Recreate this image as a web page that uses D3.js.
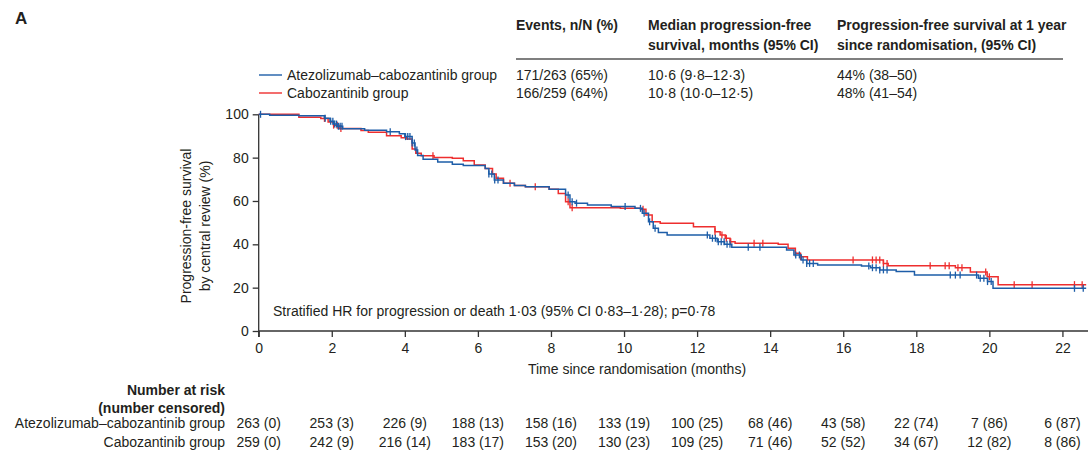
<!DOCTYPE html>
<html>
<head>
<meta charset="utf-8">
<script src="https://cdnjs.cloudflare.com/ajax/libs/d3/7.8.5/d3.min.js"></script>
<style>
  body { margin: 0; background: #fff; }
  svg text { font-family: "Liberation Sans", Arial, sans-serif; fill: #231f20; }
</style>
</head>
<body>
<script>
// curves: step times (months) and survival (%) after each step
var atezoTimes = [0, 0.3, 1.1, 1.8, 1.95, 2.05, 2.15, 2.3, 2.9, 3.5, 3.85, 4.0, 4.2, 4.28, 4.35, 4.5, 4.9, 5.3, 5.6, 6.2, 6.3, 6.45, 6.7, 7.0, 7.3, 7.95, 8.4, 8.52, 8.66, 9.0, 9.65, 10.3, 10.5, 10.67, 10.8, 10.94, 11.18, 12.35, 12.55, 12.75, 12.95, 14.45, 14.65, 14.85, 15.0, 15.3, 16.5, 16.75, 17.0, 17.45, 17.95, 19.7, 19.95, 20.1];
var atezoSurv  = [100, 99.6, 99.3, 98.2, 96.8, 95.5, 94.5, 93.3, 92.6, 92.0, 91.0, 89.7, 86.8, 83.5, 81.0, 79.2, 78.0, 77.0, 76.4, 75.0, 72.5, 69.7, 68.2, 67.2, 66.6, 65.4, 62.8, 59.7, 59.0, 58.2, 57.4, 56.6, 54.3, 50.4, 47.4, 45.4, 44.3, 42.8, 41.2, 40.0, 38.6, 37.4, 35.1, 32.8, 31.2, 30.5, 30.0, 29.2, 28.2, 27.4, 25.8, 24.3, 22.8, 19.7];
var caboTimes  = [0, 1.1, 1.7, 1.9, 2.05, 2.2, 2.8, 3.0, 3.5, 3.9, 4.05, 4.2, 4.3, 4.45, 4.8, 5.3, 5.6, 5.9, 6.2, 6.4, 6.5, 6.7, 7.0, 7.3, 7.95, 8.2, 8.4, 8.52, 9.9, 10.45, 10.6, 10.77, 10.99, 11.9, 12.49, 12.63, 12.77, 12.9, 13.04, 14.22, 14.49, 14.69, 14.83, 15.02, 17.1, 17.23, 19.07, 19.48, 19.94, 20.24];
var caboSurv   = [100, 98.6, 98.1, 96.5, 95.0, 93.5, 92.5, 91.7, 90.1, 89.2, 88.6, 84.0, 82.0, 80.9, 80.1, 79.7, 78.6, 76.6, 75.0, 72.5, 70.5, 68.2, 67.2, 66.6, 65.4, 63.5, 59.7, 56.9, 56.6, 56.2, 53.5, 50.4, 49.7, 48.1, 45.8, 44.3, 42.8, 41.2, 40.5, 40.0, 38.2, 35.9, 34.3, 32.8, 31.2, 30.1, 29.2, 27.2, 25.0, 21.4];
var endTime = 22.65;

// censoring marks (months)
var atezoCensor = [0.05, 1.82, 1.97, 2.03, 2.08, 2.13, 2.18, 2.23, 2.28, 3.6, 4.02, 4.08, 4.14, 4.2, 4.26, 4.33, 6.3, 6.38, 6.46, 6.55, 8.47, 8.58, 8.7, 10.03, 10.45, 10.55, 10.7, 10.85, 12.28, 12.42, 12.5, 12.58, 12.66, 12.74, 12.82, 12.9, 13.4, 13.72, 14.7, 14.8, 14.9, 15.0, 15.08, 15.18, 16.7, 16.8, 16.9, 17.0, 17.1, 17.2, 18.93, 19.07, 19.2, 19.65, 19.75, 19.85, 19.95, 20.05, 22.33, 22.57];
var caboCensor  = [1.8, 2.05, 2.15, 2.25, 4.77, 6.88, 7.57, 8.47, 8.58, 10.52, 12.49, 12.68, 12.8, 12.92, 13.56, 13.8, 14.69, 14.83, 16.27, 16.8, 16.9, 17.0, 17.1, 17.2, 18.38, 18.79, 18.9, 19.14, 19.25, 19.9, 20.0, 20.68, 21.17, 22.33, 22.54];

var groups = ["Atezolizumab\u2013cabozantinib group", "Cabozantinib group"];
var colors = ["#1d5da8", "#ee2e2e"];
var events = ["171/263 (65%)", "166/259 (64%)"];
var medians = ["10\u00b76 (9\u00b78\u201312\u00b73)", "10\u00b78 (10\u00b70\u201312\u00b75)"];
var oneYear = ["44% (38\u201350)", "48% (41\u201354)"];
var headers = [["Events, n/N (%)"], ["Median progression-free", "survival, months (95% CI)"], ["Progression-free survival at 1 year", "since randomisation, (95% CI)"]];

var xTicks = [0, 2, 4, 6, 8, 10, 12, 14, 16, 18, 20, 22];
var yTicks = [0, 20, 40, 60, 80, 100];
var atezoRisk = ["263 (0)", "253 (3)", "226 (9)", "188 (13)", "158 (16)", "133 (19)", "100 (25)", "68 (46)", "43 (58)", "22 (74)", "7 (86)", "6 (87)"];
var caboRisk  = ["259 (0)", "242 (9)", "216 (14)", "183 (17)", "153 (20)", "130 (23)", "109 (25)", "71 (46)", "52 (52)", "34 (67)", "12 (82)", "8 (86)"];
var hrText = "Stratified HR for progression or death 1\u00b703 (95% CI 0\u00b783\u20131\u00b728); p=0\u00b778";

var width = 1089, height = 452;
var svg = d3.select("body").append("svg").attr("width", width).attr("height", height);

var x = d3.scaleLinear().domain([0, 22.7]).range([258.7, 1088]);
var y = d3.scaleLinear().domain([0, 100]).range([331, 114.3]);

// panel letter
svg.append("text").attr("x", 15).attr("y", 24).style("font-size", "17px").style("font-weight", "bold").text("A");

// header table
var colX = [516, 648, 837];
headers.forEach(function(h, i) {
  h.forEach(function(line, j) {
    svg.append("text").attr("x", colX[i]).attr("y", 30 + j * 20)
      .style("font-size", "14px").style("font-weight", "bold").text(line);
  });
});
svg.append("line").attr("x1", 516).attr("x2", 1063).attr("y1", 59).attr("y2", 59)
  .attr("stroke", "#555").attr("stroke-width", 1.3);

var rowY = [80, 98];
groups.forEach(function(g, i) {
  svg.append("line").attr("x1", 259).attr("x2", 282).attr("y1", rowY[i] - 5).attr("y2", rowY[i] - 5)
    .attr("stroke", colors[i]).attr("stroke-width", 1.4);
  svg.append("text").attr("x", 287).attr("y", rowY[i]).style("font-size", "14px").text(g);
  svg.append("text").attr("x", colX[0]).attr("y", rowY[i]).style("font-size", "14px").text(events[i]);
  svg.append("text").attr("x", colX[1]).attr("y", rowY[i]).style("font-size", "14px").text(medians[i]);
  svg.append("text").attr("x", colX[2]).attr("y", rowY[i]).style("font-size", "14px").text(oneYear[i]);
});

// axes
var xAxis = svg.append("g").attr("transform", "translate(0,331)")
  .call(d3.axisBottom(x).tickValues(xTicks).tickSize(6).tickPadding(3).tickSizeOuter(0));
var yAxis = svg.append("g").attr("transform", "translate(258.7,0)")
  .call(d3.axisLeft(y).tickValues(yTicks).tickSize(6).tickPadding(4).tickSizeOuter(0));
[xAxis, yAxis].forEach(function(a) {
  a.select(".domain").attr("stroke", "#333").attr("stroke-width", 1.3);
  a.selectAll(".tick line").attr("stroke", "#333").attr("stroke-width", 1.3);
  a.selectAll(".tick text").style("font-size", "14px").style("font-family", "Liberation Sans, Arial, sans-serif").attr("fill", "#231f20");
});
xAxis.selectAll(".tick text").attr("dy", "0.95em");
xAxis.select(".domain").attr("d", "M" + x(0) + ",0H" + x(22.7));
yAxis.select(".domain").attr("d", "M0," + y(100) + "V" + (y(0) + 6));

// axis titles
svg.append("text").attr("transform", "translate(191,226) rotate(-90)").attr("text-anchor", "middle")
  .style("font-size", "14px").text("Progression-free survival");
svg.append("text").attr("transform", "translate(210,226) rotate(-90)").attr("text-anchor", "middle")
  .style("font-size", "14px").text("by central review (%)");
svg.append("text").attr("x", 637).attr("y", 374).attr("text-anchor", "middle")
  .style("font-size", "14px").text("Time since randomisation (months)");

svg.append("text").attr("x", 273).attr("y", 316).style("font-size", "14px").text(hrText);

// curves
function stepPoints(times, surv) {
  var pts = times.map(function(t, i) { return [t, surv[i]]; });
  pts.push([endTime, surv[surv.length - 1]]);
  return pts;
}
function survAt(times, surv, t) {
  var i = d3.bisectRight(times, t) - 1;
  return surv[Math.max(i, 0)];
}
var line = d3.line().x(function(d) { return x(d[0]); }).y(function(d) { return y(d[1]); }).curve(d3.curveStepAfter);

var series = [
  { times: caboTimes, surv: caboSurv, censor: caboCensor, color: colors[1] },
  { times: atezoTimes, surv: atezoSurv, censor: atezoCensor, color: colors[0] }
];
series.forEach(function(s) {
  svg.append("path").datum(stepPoints(s.times, s.surv))
    .attr("d", line).attr("fill", "none").attr("stroke", s.color).attr("stroke-width", 1.5);
  svg.selectAll(null).data(s.censor).enter().append("line")
    .attr("x1", function(d) { return x(d); }).attr("x2", function(d) { return x(d); })
    .attr("y1", function(d) { return y(survAt(s.times, s.surv, d)) - 3.5; })
    .attr("y2", function(d) { return y(survAt(s.times, s.surv, d)) + 3.5; })
    .attr("stroke", s.color).attr("stroke-width", 1.3);
});

// number at risk table
svg.append("text").attr("x", 225).attr("y", 395).attr("text-anchor", "end")
  .style("font-size", "14px").style("font-weight", "bold").text("Number at risk");
svg.append("text").attr("x", 225).attr("y", 413).attr("text-anchor", "end")
  .style("font-size", "14px").style("font-weight", "bold").text("(number censored)");
var riskRows = [atezoRisk, caboRisk];
var riskY = [428, 447];
riskRows.forEach(function(r, i) {
  svg.append("text").attr("x", 225).attr("y", riskY[i]).attr("text-anchor", "end")
    .style("font-size", "14px").text(groups[i]);
  svg.selectAll(null).data(r).enter().append("text")
    .attr("x", function(d, j) { return x(xTicks[j]); })
    .attr("y", riskY[i]).attr("text-anchor", "middle")
    .style("font-size", "14px").text(function(d) { return d; });
});
</script>
</body>
</html>
